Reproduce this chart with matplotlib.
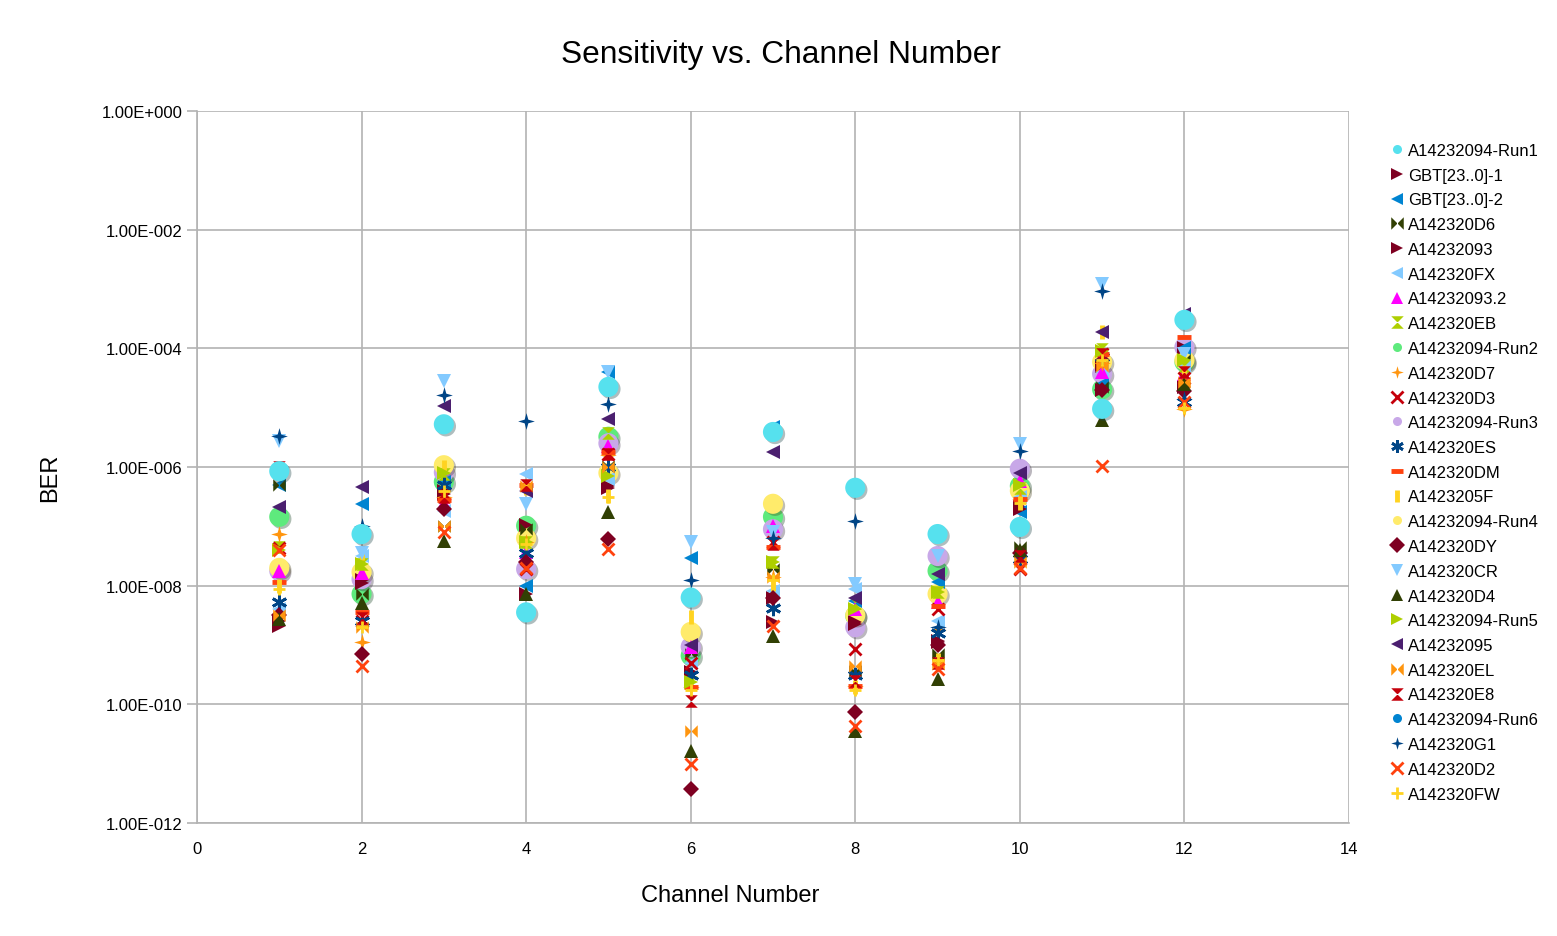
import numpy as np
import matplotlib
matplotlib.use("Agg")
import matplotlib.pyplot as plt
from matplotlib.path import Path
from matplotlib.ticker import FixedLocator, FuncFormatter, NullLocator
import matplotlib.patheffects as pe

plt.rcParams['font.family'] = ['Liberation Sans', 'DejaVu Sans']

channels = [1, 2, 3, 4, 5, 6, 7, 8, 9, 10, 11, 12]

series_names = [
    "A14232094-Run1", "GBT[23..0]-1", "GBT[23..0]-2", "A142320D6", "A14232093",
    "A142320FX", "A14232093.2", "A142320EB", "A14232094-Run2", "A142320D7",
    "A142320D3", "A14232094-Run3", "A142320ES", "A142320DM", "A1423205F",
    "A14232094-Run4", "A142320DY", "A142320CR", "A142320D4", "A14232094-Run5",
    "A14232095", "A142320EL", "A142320E8", "A14232094-Run6", "A142320G1",
    "A142320D2", "A142320FW",
]

# log10(BER) per channel 1..12
run1  = [-6.07, -7.13, -5.28, -8.45, -4.65, -8.20, -5.41, -6.35, -7.13, -7.01, -5.02, -3.52]
gbt1  = [-8.68, -7.90, -6.46, -6.97, -6.32, -9.47, -8.20, -8.61, -8.93, -6.68, -4.30, -4.00]
gbt2  = [-6.30, -6.62, -6.25, -8.00, -4.40, -7.53, -5.33, -8.26, -7.94, -6.76, -4.60, -4.00]
d6    = [-6.30, -8.14, -6.99, -7.05, -5.98, -9.16, -7.72, -9.44, -9.15, -7.35, -4.65, -4.20]
a093  = [-8.60, -7.95, -6.40, -8.14, -6.35, -9.45, -8.61, -8.65, -8.95, -6.70, -4.70, -4.65]
fx    = [-8.39, -7.50, -6.74, -6.12, -6.20, -9.30, -8.09, -8.05, -8.60, -6.50, -4.40, -4.30]
a0932 = [-7.75, -7.78, -6.60, -7.43, -5.65, -9.03, -6.99, -8.39, -8.28, -6.23, -4.40, -4.43]
eb    = [-7.35, -7.64, -6.12, -7.27, -5.43, -9.62, -7.60, -8.30, -8.10, -6.35, -4.01, -4.30]
run2  = [-6.84, -8.14, -6.25, -6.99, -5.49, -9.18, -6.84, -8.51, -7.75, -6.32, -4.69, -4.23]
d7    = [-7.13, -8.95, -6.50, -7.27, -5.80, -9.70, -7.85, -9.69, -8.75, -6.54, -4.25, -5.02]
d3    = [-7.37, -8.60, -6.45, -7.72, -5.78, -9.30, -7.27, -9.07, -8.40, -7.72, -4.10, -4.50]
run3  = [-7.75, -7.89, -6.09, -7.72, -5.60, -9.03, -7.05, -8.70, -7.50, -6.03, -4.43, -3.98]
es    = [-8.28, -8.60, -6.30, -7.45, -6.00, -9.50, -8.38, -9.50, -8.80, -7.55, -4.15, -4.90]
dm    = [-7.94, -8.44, -6.55, -6.30, -5.75, -9.70, -7.35, -9.69, -8.35, -6.54, -4.10, -3.81]
a05f  = [-8.00, -7.45, -6.00, -6.35, -6.49, -8.53, -7.97, -9.70, -9.25, -6.60, -3.72, -4.40]
run4  = [-7.70, -7.77, -5.97, -7.20, -6.10, -8.78, -6.62, -8.50, -8.14, -6.40, -4.23, -4.20]
dy    = [-8.50, -9.15, -6.70, -7.60, -7.21, -11.43, -8.20, -10.13, -9.00, -7.45, -4.70, -4.72]
cr    = [-5.56, -7.45, -4.55, -6.62, -4.40, -7.27, -7.10, -7.97, -7.50, -5.61, -2.92, -4.10]
d4    = [-8.56, -8.30, -7.24, -8.14, -6.76, -10.79, -8.85, -10.45, -9.57, -7.40, -5.20, -4.60]
run5  = [-7.40, -7.64, -6.10, -7.27, -6.15, -9.62, -7.60, -8.40, -8.10, -6.30, -4.05, -4.20]
a095  = [-6.67, -6.34, -4.97, -6.40, -5.19, -9.00, -5.75, -8.20, -7.80, -6.10, -3.72, -3.42]
el    = [-8.50, -8.70, -7.00, -6.32, -6.00, -10.45, -7.85, -9.35, -9.32, -7.60, -4.30, -4.57]
e8    = [-6.00, -8.55, -6.50, -6.30, -5.78, -9.94, -7.30, -9.60, -9.30, -7.50, -4.10, -4.40]
run6  = [None] * 12
g1    = [-5.48, -7.00, -4.79, -5.22, -4.94, -7.90, -7.20, -6.91, -8.70, -5.73, -3.03, -4.85]
d2    = [-7.40, -9.35, -7.10, -7.70, -7.38, -11.00, -8.68, -10.37, -9.40, -7.70, -5.98, -4.90]
fw    = [-8.05, -8.70, -6.40, -7.30, -6.50, -9.75, -7.90, -9.75, -9.25, -6.60, -4.20, -5.00]

series_values = [run1, gbt1, gbt2, d6, a093, fx, a0932, eb, run2, d7, d3, run3, es, dm,
                 a05f, run4, dy, cr, d4, run5, a095, el, e8, run6, g1, d2, fw]

# marker shapes
bowtie = Path([(-1, -1), (1, 1), (1, -1), (-1, 1), (-1, -1)],
              [Path.MOVETO, Path.LINETO, Path.LINETO, Path.LINETO, Path.CLOSEPOLY])
hourglass = Path([(-1, 1), (1, 1), (-1, -1), (1, -1), (-1, 1)],
                 [Path.MOVETO, Path.LINETO, Path.LINETO, Path.LINETO, Path.CLOSEPOLY])
s4 = 0.22
star4 = Path([(0, 1), (s4, s4), (1, 0), (s4, -s4), (0, -1), (-s4, -s4), (-1, 0), (-s4, s4), (0, 1)],
             [Path.MOVETO] + [Path.LINETO] * 7 + [Path.CLOSEPOLY])

styles = [
    ('o', '#56e1ee'), ('>', '#7e0021'), ('<', '#0084d1'), (bowtie, '#314004'),
    ('>', '#7e0021'), ('<', '#83caff'), ('^', '#ff00ff'), (hourglass, '#aecf00'),
    ('o', '#5eea7d'), (star4, '#ff950e'), ('x', '#c5000b'), ('o', '#c8a8e8'),
    ((6, 2, 0), '#004586'), ('_', '#ff420e'), ('|', '#ffd320'), ('o', '#ffeb6b'),
    ('D', '#7e0021'), ('v', '#83caff'), ('^', '#314004'), ('>', '#aecf00'),
    ('<', '#4b1f6f'), (bowtie, '#ff950e'), (hourglass, '#c5000b'), ('o', '#0084d1'),
    (star4, '#004586'), ('x', '#ff420e'), ('+', '#ffd320'),
]

W, H = 1557, 937
fig = plt.figure(figsize=(W / 100, H / 100), dpi=100)
fig.patch.set_facecolor('white')
ax = fig.add_axes([197 / W, 1 - 824 / H, (1349 - 197) / W, (824 - 112) / H])

handles = []
for i, (name, vals, (mk, col)) in enumerate(zip(series_names, series_values, styles)):
    y = np.array([np.nan if v is None else 10.0 ** v for v in vals], dtype=float)
    if mk == 'o':
        ms, mew = 14.5, 0
        z = 5 if i == 0 else 3
        eff = [pe.SimplePatchShadow(offset=(1.5, -1.5), alpha=0.35), pe.Normal()]
    elif mk in ('x', '+'):
        ms, mew, z, eff = 9, 2, 4, None
    elif mk in ('_', '|'):
        ms, mew, z, eff = 10, 3.5, 4, None
    elif isinstance(mk, tuple):
        ms, mew, z, eff = 11, 2, 4, None
    elif mk == 'D':
        ms, mew, z, eff = 8, 0, 4, None
    elif mk is star4:
        ms, mew, z, eff = 12, 0, 4, None
    elif mk in (bowtie, hourglass):
        ms, mew, z, eff = 9, 0, 4, None
    else:
        ms, mew, z, eff = 10, 0, 4, None
    ln, = ax.plot(channels, y, linestyle='none', marker=mk, color=col,
                  markersize=ms, markeredgewidth=mew, markeredgecolor=col,
                  zorder=z, label=name)
    if eff:
        ln.set_path_effects(eff)
    handles.append(ln)

ax.set_yscale('log')
ax.set_ylim(1e-12, 1)
ax.set_xlim(0, 14)
ax.yaxis.set_major_locator(FixedLocator([10.0 ** e for e in range(-12, 1, 2)]))
ax.yaxis.set_minor_locator(NullLocator())


def fmt(v, pos):
    e = int(round(np.log10(v)))
    return f"1.00E{e:+04d}"


ax.yaxis.set_major_formatter(FuncFormatter(fmt))
ax.set_xticks(range(0, 15, 2))
ax.grid(True, color='#b3b3b3', linewidth=1.2)
ax.set_axisbelow(True)
for s in ['top', 'right']:
    ax.spines[s].set_visible(False)
for s in ['left', 'bottom']:
    ax.spines[s].set_color('#b3b3b3')
    ax.spines[s].set_linewidth(1.2)
ax.tick_params(axis='both', colors='#b3b3b3', labelcolor='black', labelsize=12,
               length=7, width=1.2, direction='out')
ax.tick_params(axis='x', length=0, pad=13)

fig.text(781 / W, 1 - 55 / H, "Sensitivity vs. Channel Number", ha='center', va='center', fontsize=22.8)
fig.text(730 / W, 1 - 896 / H, "Channel Number", ha='center', va='center', fontsize=17)
fig.text(50 / W, 1 - 478 / H, "BER", ha='center', va='center', rotation=90, fontsize=17)

leg = fig.legend(handles=handles, loc='upper left', bbox_to_anchor=(1391 / W, 1 - 144 / H),
                 frameon=False, fontsize=12, handlelength=0.7, handletextpad=0.3,
                 labelspacing=0.585, borderpad=0, borderaxespad=0)
for h in leg.legend_handles:
    h.set_path_effects([])
    if h.get_marker() == 'o':
        h.set_markersize(6.5)
    else:
        h.set_markersize(min(h.get_markersize(), 9))

fig.savefig('out.png', dpi=100)
